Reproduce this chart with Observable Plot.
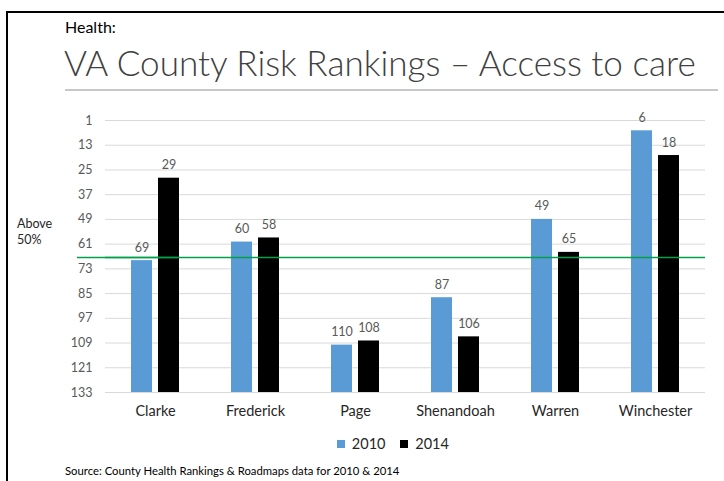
<!DOCTYPE html>
<html>
<head>
<meta charset="utf-8">
<script src="https://cdn.jsdelivr.net/npm/d3@7"></script>
<script src="https://cdn.jsdelivr.net/npm/@observablehq/plot@0.6"></script>
<style>
  body { margin: 0; background: #fff; }
  #wrap { position: relative; width: 724px; height: 481px; overflow: hidden; background: #fff; font-family: Lato, "Open Sans", sans-serif; color: #262626; }
  .abs { position: absolute; white-space: nowrap; }
</style>
</head>
<body>
<div id="wrap">
  <div class="abs" style="left:6px;top:11px;width:718px;height:2px;background:#000"></div>
  <div class="abs" style="left:6px;top:11px;width:2px;height:470px;background:#000"></div>
  <div class="abs" id="kicker" style="left:65px;top:17px;font-size:16px;line-height:20px;color:#000">Health:</div>
  <div class="abs" id="title" style="left:64px;top:40px;font-size:34px;line-height:44px;font-weight:300;color:#404040">VA County Risk Rankings – Access to care</div>
  <div class="abs" style="left:65px;top:89px;width:653px;height:2px;background:#c8c8c8"></div>
  <div class="abs" id="above" style="left:17px;top:216px;font-size:12.5px;line-height:16px;color:#262626">Above<br>50%</div>
  <div class="abs" id="chart" style="left:0;top:95px"></div>
  <div class="abs" id="legend" style="left:0;top:427px;width:800px;display:flex;justify-content:center"></div>
  <div class="abs" id="caption" style="left:65px;top:464px;font-size:11.3px;line-height:14px;color:#000">Source: County Health Rankings &amp; Roadmaps data for 2010 &amp; 2014</div>
</div>
<script>
const counties = ["Clarke", "Frederick", "Page", "Shenandoah", "Warren", "Winchester"];
const years = ["2010", "2014"];
const rank2010 = [69, 60, 110, 87, 49, 6];
const rank2014 = [29, 58, 108, 106, 65, 18];
const yTicks = [1, 13, 25, 37, 49, 61, 73, 85, 97, 109, 121, 133];
const threshold = 67.5;
const colors = ["#5B9BD5", "#000000"];

const data = counties.flatMap((c, i) => [
  {county: c, year: years[0], rank: rank2010[i]},
  {county: c, year: years[1], rank: rank2014[i]}
]);
const bottomRank = yTicks[yTicks.length - 1];
const tickRows = yTicks.map(v => ({county: counties[0], v}));

const chart = Plot.plot({
  width: 724,
  height: 330,
  marginLeft: 105,
  marginRight: 19,
  marginTop: 25,
  marginBottom: 33,
  style: {fontFamily: "Lato, 'Open Sans', sans-serif", fontSize: "14.5px", color: "#262626", background: "transparent"},
  fx: {domain: counties, padding: 0, label: null, axis: "bottom", tickSize: 0, tickPadding: 13},
  x: {domain: years, paddingInner: 0.214, paddingOuter: 0.893, axis: null},
  y: {domain: [1, bottomRank], reverse: true, axis: null},
  color: {domain: years, range: colors},
  marks: [
    Plot.ruleY(yTicks, {stroke: "#d9d9d9", strokeWidth: 1}),
    Plot.text(tickRows, {fx: "county", y: "v", text: d => String(d.v), frameAnchor: "left", textAnchor: "end", dx: -13, fill: "#595959", fontSize: 12.5}),
    Plot.barY(data, {fx: "county", x: "year", y1: () => bottomRank, y2: "rank", fill: "year"}),
    Plot.text(data, {fx: "county", x: "year", y: "rank", text: d => String(d.rank), dy: -13, fill: "#595959", fontSize: 12.5}),
    Plot.ruleY(counties.map(c => ({county: c, y: threshold})), {fx: "county", y: "y", stroke: "#00A04A", strokeWidth: 1.5}),
    Plot.ruleY([{county: counties[0], y: threshold}], {fx: "county", y: "y", dx: -28, stroke: "#00A04A", strokeWidth: 1.5})
  ]
});
document.getElementById("chart").appendChild(chart);

const legend = Plot.legend({
  color: {type: "categorical", domain: years, range: colors},
  swatchSize: 8,
  style: {fontFamily: "Lato, 'Open Sans', sans-serif", fontSize: "14.5px", color: "#262626"}
});
document.getElementById("legend").appendChild(legend);

// fit title to reference width
const t = document.getElementById("title");
const w = t.getBoundingClientRect().width;
t.style.fontSize = (34 * 632 / w) + "px";
</script>
</body>
</html>
